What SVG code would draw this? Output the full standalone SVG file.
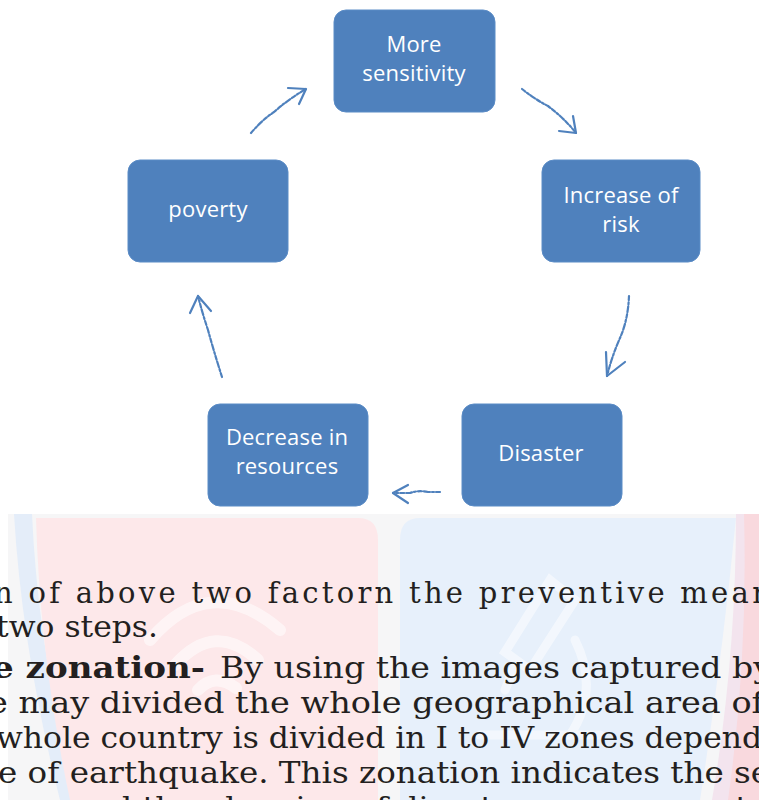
<svg xmlns="http://www.w3.org/2000/svg" width="759" height="800" viewBox="0 0 759 800">
<defs>
<style>
.node rect{fill:#4F81BD;stroke:#5b8cc6;stroke-width:1}
.node text{fill:#ffffff;font-family:"Open Sans","DejaVu Sans",sans-serif;font-size:22px;text-anchor:middle;letter-spacing:0.2px}
.conn path{fill:none;stroke:#4F81BD;stroke-width:2.2;stroke-linecap:round}
.conn .sk{stroke-dasharray:4 2 2 2 6 2}
.body{font-family:"DejaVu Serif","Liberation Serif",serif;font-size:29px;fill:#231f20}
.b{font-weight:bold}
</style>
</defs>
<rect width="759" height="800" fill="#ffffff"/>
<g id="watermark">
<rect x="8" y="514" width="751" height="286" fill="#f6f6f7"/>
<path d="M14 514 Q22 650 60 800 L76 800 Q38 650 32 514 Z" fill="#e4edf9"/>
<path d="M36 518 L358 518 Q378 518 378 540 L378 800 L70 800 Q40 660 36 518 Z" fill="#fde8ea"/>
<path d="M420 518 L736 518 Q722 660 700 800 L400 800 L400 540 Q400 518 420 518 Z" fill="#e7f0fb"/>
<path d="M736 514 L759 514 L759 800 L712 800 Q736 660 736 514 Z" fill="#f3e4ee"/>
<path d="M744 514 L759 514 L759 800 L728 800 Q748 660 744 514 Z" fill="#f9d9de"/>
<g fill="none" stroke="#ffffff" stroke-width="12" stroke-linecap="round" opacity="0.55">
<path d="M150 640 Q210 570 280 630"/>
<path d="M175 665 Q215 620 258 660"/>
<path d="M198 690 Q215 672 236 688"/>
</g>
<g fill="none" stroke="#ffffff" stroke-width="9" stroke-linecap="round" opacity="0.5">
<path d="M550 580 L575 600 L530 670 L505 652 Z"/>
<path d="M515 665 L505 690"/>
<path d="M575 640 Q600 690 570 735"/>
<path d="M480 735 L600 735"/>
</g>
</g>
<g id="connectors" class="conn">
<path class="sk" d="M251 133 Q262 120 274 112 Q290 98 306 89"/>
<path d="M306 89 L288 88 M306 89 L299 104"/>
<path class="sk" d="M522 89 Q536 100 548 106 Q564 118 576 133"/>
<path d="M576 133 L559 131 M576 133 L573 116"/>
<path class="sk" d="M629 296 Q628 320 620 338 Q612 356 607 376"/>
<path d="M607 376 L606 352 M607 376 L625 362"/>
<path class="sk" d="M440 492 L428 492 Q418 490 410 493 L393 493"/>
<path d="M393 493 L408 485 M393 493 L408 503"/>
<path class="sk" d="M222 377 Q214 352 208 330 Q202 312 198 296"/>
<path d="M198 296 L190 313 M198 296 L211 311"/>
</g>
<g id="node-sensitivity" class="node">
<rect x="334" y="10" width="161" height="102" rx="12"/>
<text x="414" y="52">More</text>
<text x="414" y="81">sensitivity</text>
</g>
<g id="node-risk" class="node">
<rect x="542" y="160" width="158" height="102" rx="12"/>
<text x="621" y="203">Increase of</text>
<text x="621" y="232">risk</text>
</g>
<g id="node-poverty" class="node">
<rect x="128" y="160" width="160" height="102" rx="12"/>
<text x="208" y="217">poverty</text>
</g>
<g id="node-resources" class="node">
<rect x="208" y="404" width="160" height="102" rx="12"/>
<text x="287" y="445">Decrease in</text>
<text x="287" y="474">resources</text>
</g>
<g id="node-disaster" class="node">
<rect x="462" y="404" width="160" height="102" rx="12"/>
<text x="541" y="461">Disaster</text>
</g>
<g id="text">
<text class="body" x="-6" y="603" textLength="772" lengthAdjust="spacing">n of above two factorn the preventive mear</text>
<text class="body" x="-4" y="637" textLength="162" lengthAdjust="spacingAndGlyphs">two steps.</text>
<text class="body b" x="-8" y="678" textLength="213" lengthAdjust="spacingAndGlyphs">e zonation-</text>
<text class="body" x="220" y="678" textLength="552" lengthAdjust="spacingAndGlyphs">By using the images captured by</text>
<text class="body" x="-12" y="713" textLength="776" lengthAdjust="spacingAndGlyphs">e may divided the whole geographical area of</text>
<text class="body" x="-4" y="748" textLength="766" lengthAdjust="spacingAndGlyphs">whole country is divided in I to IV zones depend</text>
<text class="body" x="-2" y="783" textLength="772" lengthAdjust="spacingAndGlyphs">e of earthquake. This zonation indicates the se</text>
<text class="body" x="-10" y="818" textLength="780" lengthAdjust="spacingAndGlyphs">ness and the planning of disaster management f</text>
</g>
</svg>
